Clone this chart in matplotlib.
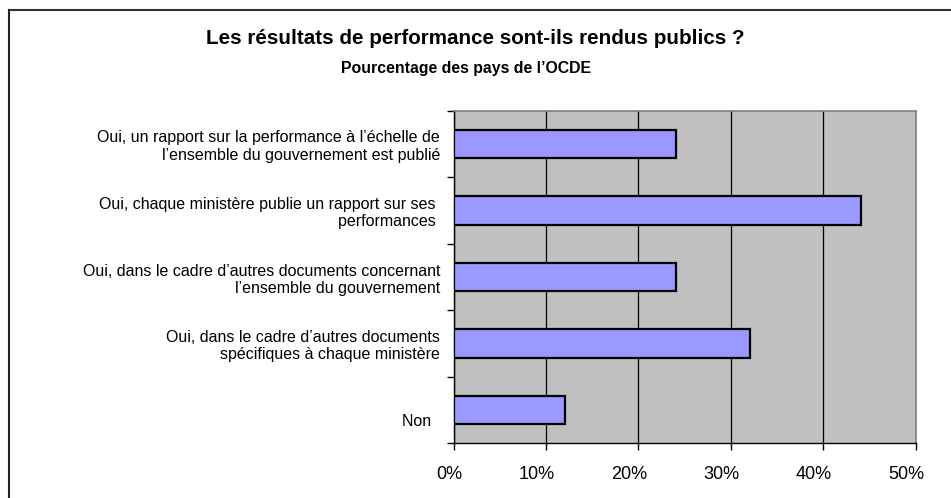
import matplotlib
matplotlib.use("Agg")
import matplotlib.pyplot as plt
import matplotlib.transforms as mtransforms
from matplotlib.lines import Line2D
import numpy as np

plt.rcParams['font.family'] = ['Liberation Sans', 'DejaVu Sans']

categories = [
    "Oui, un rapport sur la performance à l\u2019échelle de\nl\u2019ensemble du gouvernement est publié",
    "Oui, chaque ministère publie un rapport sur ses \nperformances ",
    "Oui, dans le cadre d\u2019autres documents concernant\nl\u2019ensemble du gouvernement",
    "Oui, dans le cadre d\u2019autres documents\nspécifiques à chaque ministère",
    "\nNon  ",
]
values = [24.1, 44.1, 24.1, 32.1, 12.1]
xticks = [0, 10, 20, 30, 40, 50]
xtick_labels = ["0%", "10%", "20%", "30%", "40%", "50%"]

W, H = 951, 498
fig = plt.figure(figsize=(W / 100, H / 100), dpi=100)
fig.patch.set_facecolor("white")

# outer frame (top and left edges)
fig.add_artist(Line2D([9 / W, 1.0], [1 - 10 / H, 1 - 10 / H], color="#333333", lw=1.5, transform=fig.transFigure))
fig.add_artist(Line2D([9 / W, 9 / W], [0.0, 1 - 10 / H], color="#222222", lw=1.5, transform=fig.transFigure))

left, right = 453.5 / W, 915.7 / W
top, bottom = 1 - 110.7 / H, 1 - 443.3 / H
ax = fig.add_axes([left, bottom, right - left, top - bottom])
ax.set_facecolor("#C0C0C0")

y = np.arange(len(categories))
ax.barh(y, values, height=0.43, color="#9999FF", edgecolor="black", linewidth=1.6, zorder=3)

ax.set_xlim(0, 50)
ax.set_ylim(len(categories) - 0.5, -0.5)
ax.set_xticks(xticks)
ax.set_xticklabels(xtick_labels, fontsize=13, ha="right")
ax.xaxis.grid(True, color="black", linewidth=0.9, zorder=1)
ax.set_axisbelow(True)

ax.set_yticks(y)
ax.set_yticklabels(categories, fontsize=11.5, ha="right", linespacing=1.2)
ax.set_yticks(np.arange(len(categories) + 1) - 0.5, minor=True)
ax.tick_params(axis="y", which="major", length=0, pad=9.7)
ax.tick_params(axis="y", which="minor", length=5, width=1, color="black", direction="out")
ax.tick_params(axis="x", which="major", length=5, width=1, color="black", direction="out", pad=11)

for s in ("top", "right"):
    ax.spines[s].set_color("#808080")
    ax.spines[s].set_linewidth(1.2)
for s in ("left", "bottom"):
    ax.spines[s].set_color("black")
    ax.spines[s].set_linewidth(1.0)

fig.text(475 / W, 1 - 39 / H, "Les résultats de performance sont-ils rendus publics ?",
         ha="center", va="center", fontsize=14.9, fontweight="bold")
fig.text(466 / W, 1 - 68 / H, "Pourcentage des pays de l\u2019OCDE",
         ha="center", va="center", fontsize=11.4, fontweight="bold")

# shift x tick labels right (labels right-aligned ~8.5px past gridline)
fig.canvas.draw()
offset = mtransforms.ScaledTranslation(8.5 / 100, 0, fig.dpi_scale_trans)
for tick in ax.xaxis.get_major_ticks():
    tick.label1.set_transform(tick.label1.get_transform() + offset)

fig.savefig("out.png", dpi=100, facecolor="white")
